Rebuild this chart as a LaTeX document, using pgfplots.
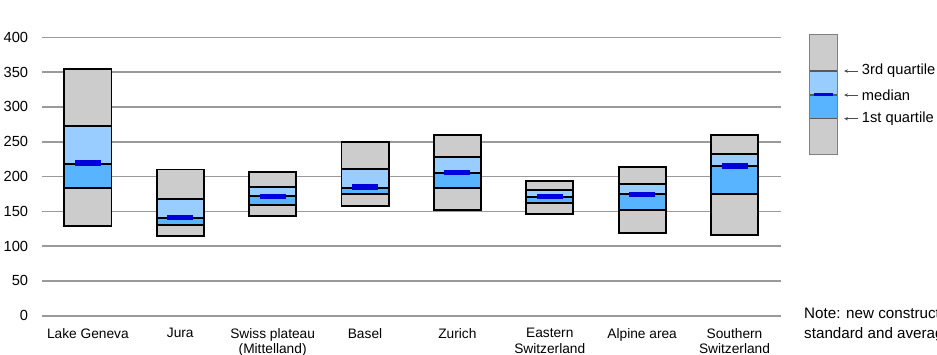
\documentclass[border=0pt]{standalone}
\usepackage{fontspec}
\setmainfont{Liberation Sans}
\usepackage{pgfplots}
\usepackage{pgfplotstable}
\usetikzlibrary{arrows.meta}
\pgfplotsset{compat=1.18}
\definecolor{boxgrey}{HTML}{CCCCCC}
\definecolor{lightblue}{HTML}{99CCFF}
\definecolor{midblue}{HTML}{58B4FF}
\definecolor{medblue}{HTML}{0000DD}
\definecolor{gridgrey}{HTML}{9A9A9A}
\pgfplotstableread{
x mn q1 md q3 mx mk
0.5 129 183 218 273 354 219.5
1.5 114.5 130 140 168 210 141
2.5 143.7 159.5 171.5 185 206 171
3.5 157.6 174.5 183 211 250 185
4.5 152 184 204.6 227.6 260 205.5
5.5 146.5 161.5 171 180 193.5 171
6.5 119 151.4 174.4 189.7 214 174
7.5 115.5 175 215 232 259.6 215
}\data
\begin{document}
\begin{tikzpicture}
\useasboundingbox (-31.275pt,-28.725pt) rectangle (671.475pt,236.775pt);
\begin{axis}[
  scale only axis, width=554.25pt, height=208.8pt,
  xmin=0, xmax=8, ymin=0, ymax=400,
  axis line style={draw=none}, tick style={draw=none},
  ymajorgrids, grid style={gridgrey, line width=1.2pt},
  ybar stacked, bar width=0.51,
  ytick={0,50,...,400},
  xtick={0.5,1.5,...,7.5},
  xticklabels={Lake Geneva, Jura, {Swiss plateau\\(Mittelland)}, Basel, Zurich, {Eastern\\Switzerland}, Alpine area, {Southern\\Switzerland}},
  /pgf/number format/assume math mode=true,
  yticklabel style={font=\fontsize{11}{13}\selectfont, inner sep=0pt, anchor=east, xshift=-10pt},
  xticklabel style={font=\fontsize{10.3}{11.5}\selectfont, align=center, anchor=north, inner sep=0pt, yshift=-9.2pt},
]
\addplot[draw=none, fill=none] table[x=x, y=mn]{\data};
\addplot[fill=boxgrey, draw=black, line width=1.4pt] table[x=x, y expr=\thisrow{q1}-\thisrow{mn}]{\data};
\addplot[fill=midblue, draw=black, line width=1.4pt] table[x=x, y expr=\thisrow{md}-\thisrow{q1}]{\data};
\addplot[fill=lightblue, draw=black, line width=1.4pt] table[x=x, y expr=\thisrow{q3}-\thisrow{md}]{\data};
\addplot[fill=boxgrey, draw=black, line width=1.4pt] table[x=x, y expr=\thisrow{mx}-\thisrow{q3}]{\data};
\end{axis}
\begin{axis}[
  scale only axis, width=554.25pt, height=208.8pt,
  xmin=0, xmax=8, ymin=0, ymax=400, hide axis,
]
\addplot[only marks, mark=-, mark size=9.75pt, mark options={line width=4pt, draw=medblue}] table[x=x, y=mk]{\data};
\end{axis}
% legend
\fill[boxgrey] (575.7pt,120.75pt) rectangle (596.7pt,147.75pt);
\fill[midblue] (575.7pt,147.75pt) rectangle (596.7pt,165.5pt);
\fill[lightblue] (575.7pt,165.5pt) rectangle (596.7pt,183.5pt);
\fill[boxgrey] (575.7pt,183.5pt) rectangle (596.7pt,210.75pt);
\draw[black!65, line width=0.9pt] (575.7pt,147.75pt) -- (596.7pt,147.75pt);
\draw[black!65, line width=0.9pt] (575.7pt,165.5pt) -- (596.7pt,165.5pt);
\draw[black!65, line width=0.9pt] (575.7pt,183.5pt) -- (596.7pt,183.5pt);
\draw[black!50, line width=0.9pt] (575.7pt,120.75pt) rectangle (596.7pt,210.75pt);
\fill[medblue] (579.2pt,164.8pt) rectangle (593.7pt,167.3pt);
\foreach \yy/\tt in {183.5/3rd quartile, 165.5/median, 147.75/1st quartile}{
  \draw[black!70, line width=0.6pt, -{Stealth[length=3pt,width=2.5pt]}] (612.2pt,\yy pt) -- (601.7pt,\yy pt);
  \node[anchor=west, inner sep=0pt, font=\fontsize{11}{13}\selectfont] at (615pt,\yy pt) {\tt};
}
\node[anchor=west, inner sep=0pt, font=\fontsize{11.4}{13}\selectfont] at (571.7pt,2.25pt) {Note: new construction};
\node[anchor=west, inner sep=0pt, font=\fontsize{11.4}{13}\selectfont] at (571.7pt,-14.25pt) {standard and average};
\end{tikzpicture}
\end{document}
